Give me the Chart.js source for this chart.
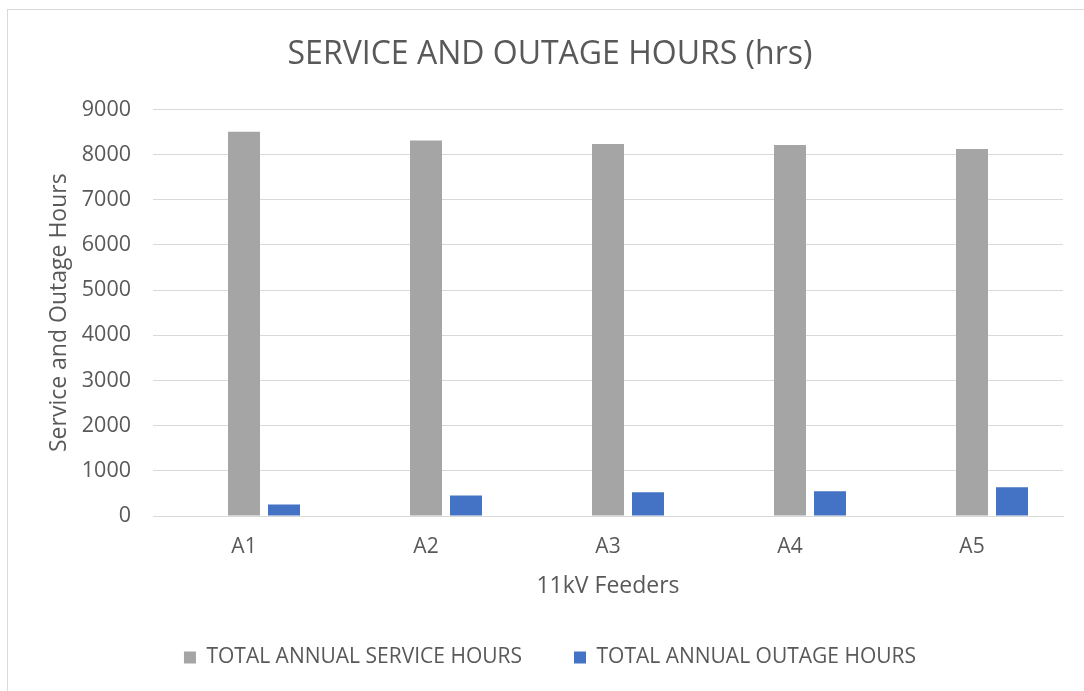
<!DOCTYPE html>
<html>
<head>
<meta charset="utf-8">
<script src="https://cdn.jsdelivr.net/npm/chart.js@4.4.1/dist/chart.umd.min.js"></script>
<style>
  html, body { margin: 0; padding: 0; background: #ffffff; overflow: hidden; width: 1084px; height: 691px; }
  #frame { position: absolute; left: 7px; top: 9px; width: 1100px; height: 700px;
           border-left: 1px solid #d9d9d9; border-top: 1px solid #d9d9d9; }
  #wrap { position: absolute; left: 0; top: 0; width: 1100px; height: 691px; }
</style>
</head>
<body>
<div id="frame"></div>
<div id="wrap"><canvas id="c" width="1100" height="691"></canvas></div>
<script>
const categories = ['A1', 'A2', 'A3', 'A4', 'A5'];
const serviceHours = [8505, 8309, 8234, 8211, 8121];
const outageHours = [255, 451, 526, 549, 639];
const emptySeries = [null, null, null, null, null];
const yTicks = [0, 1000, 2000, 3000, 4000, 5000, 6000, 7000, 8000, 9000];

const FONT = "'Open Sans', sans-serif";
const TXT = '#595959';

new Chart(document.getElementById('c'), {
  type: 'bar',
  data: {
    labels: categories,
    datasets: [
      { label: '', data: emptySeries, backgroundColor: 'rgba(0,0,0,0)' },
      { label: 'TOTAL ANNUAL SERVICE HOURS', data: serviceHours, backgroundColor: '#a5a5a5' },
      { label: 'TOTAL ANNUAL OUTAGE HOURS', data: outageHours, backgroundColor: '#4472c4' }
    ]
  },
  options: {
    responsive: false,
    animation: false,
    devicePixelRatio: 1,
    datasets: { bar: { categoryPercentage: 120 / 182, barPercentage: 0.8 } },
    layout: { padding: { left: 37, right: 37, top: 0, bottom: 13 } },
    plugins: {
      tooltip: { enabled: false },
      title: {
        display: true,
        text: 'SERVICE AND OUTAGE HOURS (hrs)',
        color: TXT,
        font: { family: FONT, size: 32, weight: 'normal' },
        padding: { top: 36, bottom: 35 }
      },
      legend: {
        position: 'bottom',
        labels: {
          color: TXT,
          font: { family: FONT, size: 21 },
          boxWidth: 12, boxHeight: 12,
          padding: 52,
          filter: (item) => item.text !== ''
        }
      }
    },
    scales: {
      x: {
        grid: { display: false, drawTicks: false },
        border: { display: true, color: '#d9d9d9', width: 1 },
        ticks: { color: TXT, font: { family: FONT, size: 21 }, padding: 18 },
        title: { display: true, text: '11kV Feeders', color: TXT,
                 font: { family: FONT, size: 23 }, padding: { top: 0, bottom: -5 } },
        afterFit: (s) => { s.height = 79; }
      },
      y: {
        min: 0, max: 9000,
        afterBuildTicks: (s) => { s.ticks = yTicks.map(v => ({ value: v })); },
        grid: { color: '#d9d9d9', lineWidth: 1, drawTicks: false },
        border: { display: false },
        ticks: { color: TXT, font: { family: FONT, size: 21.5 }, padding: 22,
                 callback: (v) => String(v) },
        title: { display: true, text: 'Service and Outage Hours', color: TXT,
                 font: { family: FONT, size: 23 }, padding: { top: 9, bottom: 0 } },
        afterFit: (s) => { s.width = 116; }
      }
    }
  }
});
</script>
</body>
</html>
